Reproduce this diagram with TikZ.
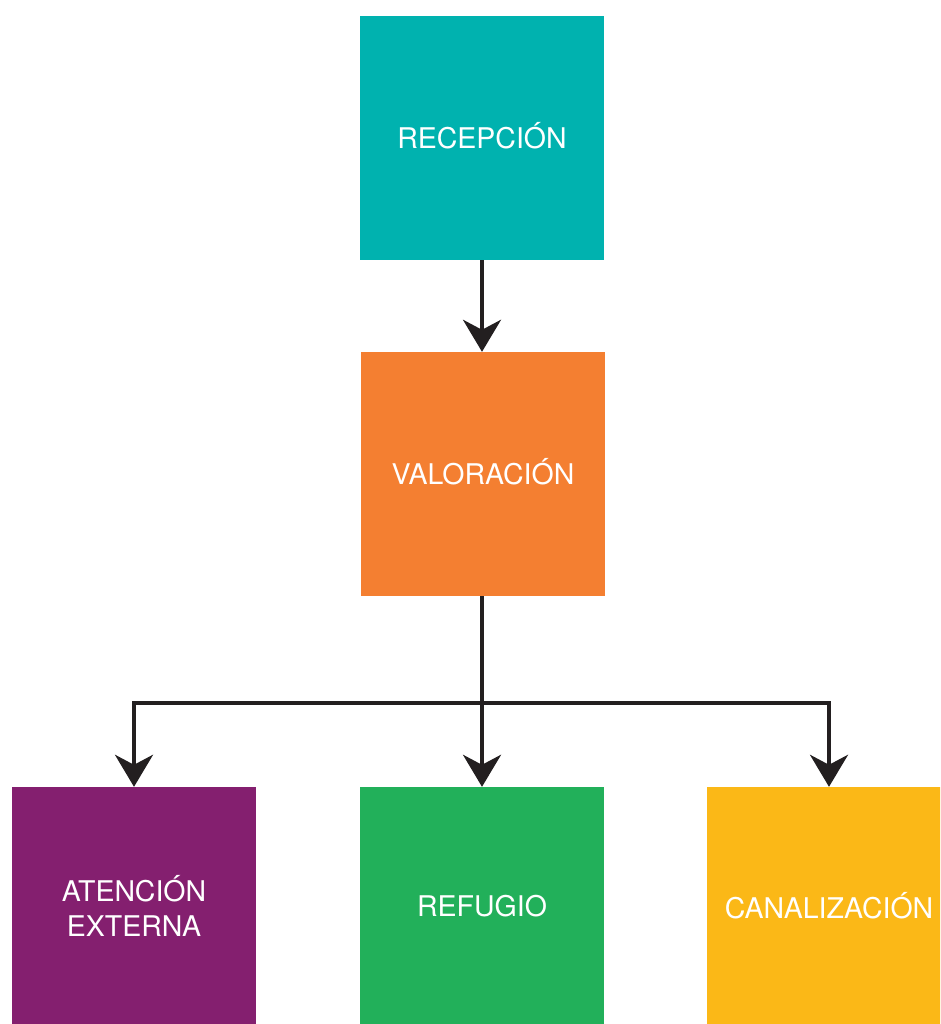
\documentclass[tikz,border=0pt]{standalone}
\usepackage{fontspec}
\setmainfont{TeX Gyre Heros}
\usetikzlibrary{arrows.meta}
\definecolor{cteal}{HTML}{00B2AF}
\definecolor{corange}{HTML}{F47F31}
\definecolor{cpurple}{HTML}{841F6F}
\definecolor{cgreen}{HTML}{22B05A}
\definecolor{cyellow}{HTML}{FBB817}
\definecolor{carrow}{HTML}{231F20}
\tikzset{
  box/.style={rectangle, minimum width=244pt, minimum height=244pt, inner sep=0pt,
    text=white, align=center, font=\fontsize{28.5}{35}\selectfont},
  lbl/.style={text=white, align=center, font=\fontsize{28.5}{35}\selectfont, inner sep=0pt},
  arr/.style={draw=carrow, line width=3.8pt,
    -{Stealth[length=32pt, width=38pt, inset=10pt]}}
}
\begin{document}
\begin{tikzpicture}[x=1pt,y=-1pt]
\clip (0,0) rectangle (940,1024);
\fill[white] (0,0) rectangle (940,1024);
\node[box, fill=cteal] (rec) at (482,138) {};
\node[box, fill=corange] (val) at (483,474) {};
\node[box, fill=cpurple] (ate) at (134,909) {};
\node[box, fill=cgreen] (ref) at (482,909) {};
\node[box, fill=cyellow] (can) at (829,909) {};
\node[lbl] (trec) at (482,136) {RECEPCIÓN};
\node[lbl] (tval) at (483,472) {VALORACIÓN};
\node[lbl] (tate) at (134,906) {ATENCIÓN\\EXTERNA};
\node[lbl] (tref) at (482,906) {REFUGIO};
\node[lbl] (tcan) at (829,906) {CANALIZACIÓN};
\coordinate (j) at (482,703);
\draw[arr] (rec.south) -- (rec.south |- val.north);
\draw[arr] (val.south -| rec.south) -- (ref.north);
\draw[arr] (j) -| (ate.north);
\draw[arr] (j) -| (can.north);
\end{tikzpicture}
\end{document}
